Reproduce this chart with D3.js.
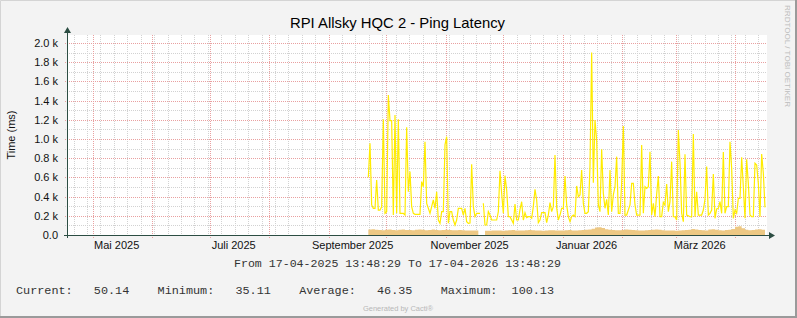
<!DOCTYPE html>
<html>
<head>
<meta charset="utf-8">
<script src="https://cdn.jsdelivr.net/npm/d3@7"></script>
<style>
  body { margin: 0; background: #f3f3f3; }
  svg { display: block; }
</style>
</head>
<body>
<div id="wrapper"></div>
<script>
// chart data
const graphTitle = "RPI Allsky HQC 2 - Ping Latency"
const axisTitle = "Time (ms)"
const rangeStart = new Date("2025-04-17T13:48:29")
const rangeEnd = new Date("2026-04-17T13:48:29")

const yTicks = [0, 200, 400, 600, 800, 1000, 1200, 1400, 1600, 1800, 2000]
const yTickLabels = ["0.0", "0.2 k", "0.4 k", "0.6 k", "0.8 k", "1.0 k", "1.2 k", "1.4 k", "1.6 k", "1.8 k", "2.0 k"]
const yMax = 2083

const monthLabels = ["Mai 2025", "Juli 2025", "September 2025", "November 2025", "Januar 2026", "März 2026"]
const monthLabelDates = ["2025-05-01", "2025-07-01", "2025-09-01", "2025-11-01", "2026-01-01", "2026-03-01"]

// samples are evenly spaced between these two times
const seriesStart = new Date("2025-09-21T16:45:00")
const seriesEnd = new Date("2026-04-16T12:46:00")

// yellow line (ms)
const latencyValues = [
  600, 955, 313, 278, 278, 573, 260, 260, 295, 1205,
  226, 243, 1459, 1191, 1191, 208, 1250, 226, 1205, 226,
  226, 226, 208, 1122, 451, 660, 295, 226, 215, 215,
  215, 215, 556, 503, 972, 330, 278, 226, 295, 365,
  278, 451, 156, 122, 243, 243, 938, 1024, 122, 243,
  243, 156, 104, 156, 278, 278, 278, 208, 278, 139,
  122,
  125, 737, 295, 191, 226, 226, 226, NaN, 330, 104,
  104, 243, 208, 156, 156, 156, 156, 243, 670, 434,
  226, 618, 469, 191, 191, 156, 122, 323, 156, 156,
  267, 347, 156, 233, 181, 191, 191, 174, 295, 476,
  365, 128, 156, 233, 233, 233, 128, 208, 337, 243,
  295, 834, 285, 156, 208, 278, 278, 615, 313, 191,
  139, 191, 208, 191, 511, 399, 417, 677, 330, 226,
  226, 243, 712, 1900, 545, 1198, 990, 313, 243, 893,
  434, 278, 372, 208, 677, 243, 417, 503, 816, 226,
  226, 538, 1136, 208, 208, 260, 313, 538, 538, 313,
  208, 208, 208, 938, 226, 503, 486, 503, 868, 208,
  330, 191, 424, 615, 191, 191, 340, 313, 531, 243,
  347, 764, 190, 190, 156, 1094, 747, 226, 139, 841,
  208, 200, 190, 190, 1052, 190, 451, 208, 208, 208,
  260, 372, 712, 208, 226, 260, 635, 174, 271, 278,
  347, 226, 865, 226, 295, 295, 972, 695, 174, 260,
  226, 382, 382, 809, 503, 174, 788, 538, 208, 190,
  190, 747, 729, 538, 190, 844, 643, 288
]

// tan area (ms)
const baseValues = [
  58, 60, 55, 52, 50, 54, 56, 52, 50, 55, 58, 53, 51, 50, 55, 57, 54, 50, 52, 56,
  53, 50, 51, 55, 52, 50, 49, 52, 50, 48, 47,
  46, 47, 46, NaN,
  44, 45, 46, 48, 46, 45, 47, 50, 52, 48, 46, 47, 50, 52, 49, 48, 46, 45, 47, 49,
  50, 48, 46, 47,
  50, 52, 48, 47, 50, 53, 55, 58, 65, 78, 82, 72, 60, 55, 52, 50, 49, 52, 58, 55,
  52, 50, 48, 47, 49, 52, 55, 58, 54, 50, 48, 47,
  46, 45, 48, 50, 52, 55, 62, 58, 52, 50, 48, 56, 60, 55, 50, 48, 52, 55, 62, 86,
  92, 70, 55, 50, 52, 58, 60, 54, 50
]

const legendLabels = ["Current:", "Minimum:", "Average:", "Maximum:"]
const legendValues = [50.14, 35.11, 46.35, 100.13]

function drawChart() {
  let dimensions = {
    width: 797,
    height: 318,
    margin: { top: 35, right: 30, bottom: 83, left: 67 },
  }
  dimensions.boundedWidth = dimensions.width - dimensions.margin.left - dimensions.margin.right
  dimensions.boundedHeight = dimensions.height - dimensions.margin.top - dimensions.margin.bottom

  const toSeries = values => values.map((v, i) => ({
    t: new Date(+seriesStart + i * (seriesEnd - seriesStart) / (values.length - 1)),
    v: v,
  }))
  const latency = toSeries(latencyValues)
  const base = toSeries(baseValues)

  const xScale = d3.scaleTime()
    .domain([rangeStart, rangeEnd])
    .range([0, dimensions.boundedWidth])
  const yScale = d3.scaleLinear()
    .domain([0, yMax])
    .range([dimensions.boundedHeight, 0])

  const svg = d3.select("#wrapper").append("svg")
    .attr("width", dimensions.width)
    .attr("height", dimensions.height)
    .style("font-family", "'Liberation Sans', Arial, sans-serif")

  // frame
  svg.append("rect").attr("width", dimensions.width).attr("height", dimensions.height).attr("fill", "#f3f3f3")
  svg.append("path").attr("d", "M0.5,318V0.5H797").attr("fill", "none").attr("stroke", "#d4d4d4")
  svg.append("path").attr("d", "M796,0V317H0").attr("fill", "none").attr("stroke", "#9a9a9a").attr("stroke-width", 2)

  const bounds = svg.append("g")
    .attr("transform", `translate(${dimensions.margin.left}, ${dimensions.margin.top})`)

  bounds.append("rect")
    .attr("width", dimensions.boundedWidth)
    .attr("height", dimensions.boundedHeight)
    .attr("fill", "#ffffff")

  const crisp = v => Math.round(v) + 0.5
  const grid = bounds.append("g").attr("shape-rendering", "crispEdges").attr("fill", "none")

  // minor grid (grey) then major grid (red)
  const minorY = d3.range(100, yMax, 100)
  const minorX = d3.timeMonday.range(rangeStart, rangeEnd)
  const majorX = d3.timeMonth.range(rangeStart, rangeEnd)

  grid.selectAll(".minor-y").data(minorY).join("line")
    .attr("x1", -2).attr("x2", dimensions.boundedWidth)
    .attr("y1", d => crisp(yScale(d))).attr("y2", d => crisp(yScale(d)))
    .attr("stroke", "#d2d2d2").attr("stroke-dasharray", "1,1")
  grid.selectAll(".minor-x").data(minorX).join("line")
    .attr("x1", d => crisp(xScale(d))).attr("x2", d => crisp(xScale(d)))
    .attr("y1", 0).attr("y2", dimensions.boundedHeight + 2)
    .attr("stroke", "#d2d2d2").attr("stroke-dasharray", "1,1")
  grid.selectAll(".major-y").data(yTicks.slice(1)).join("line")
    .attr("x1", -2).attr("x2", dimensions.boundedWidth)
    .attr("y1", d => crisp(yScale(d))).attr("y2", d => crisp(yScale(d)))
    .attr("stroke", "#e9a0a0").attr("stroke-dasharray", "1,1")
  grid.selectAll(".major-x").data(majorX).join("line")
    .attr("x1", d => crisp(xScale(d))).attr("x2", d => crisp(xScale(d)))
    .attr("y1", 0).attr("y2", dimensions.boundedHeight + 3)
    .attr("stroke", "#e9a0a0").attr("stroke-dasharray", "1,1")

  // data
  const area = d3.area()
    .defined(d => !isNaN(d.v))
    .curve(d3.curveStepAfter)
    .x(d => xScale(d.t))
    .y0(yScale(0))
    .y1(d => yScale(d.v))
  bounds.append("path").datum(base)
    .attr("d", area)
    .attr("fill", "#edc884")

  const line = d3.line()
    .defined(d => !isNaN(d.v))
    .x(d => xScale(d.t))
    .y(d => yScale(d.v))
  bounds.append("path").datum(latency)
    .attr("d", line)
    .attr("fill", "none")
    .attr("stroke", "#ffec00")
    .attr("stroke-width", 1.2)

  // axes with arrows
  const axisColor = "#2c4d43"
  bounds.append("line")
    .attr("x1", -3).attr("x2", dimensions.boundedWidth + 3)
    .attr("y1", dimensions.boundedHeight + 0.5).attr("y2", dimensions.boundedHeight + 0.5)
    .attr("stroke", axisColor)
  bounds.append("line")
    .attr("x1", 0.5).attr("x2", 0.5)
    .attr("y1", dimensions.boundedHeight + 3).attr("y2", -3)
    .attr("stroke", axisColor)
  bounds.append("path")
    .attr("d", `M${dimensions.boundedWidth + 2},${dimensions.boundedHeight - 3}l6,3.5l-6,3.5z`)
    .attr("fill", axisColor)
  bounds.append("path")
    .attr("d", "M-3,-2l3.5,-6l3.5,6z")
    .attr("fill", axisColor)

  // y tick labels
  bounds.selectAll(".ylabel").data(yTicks).join("text")
    .attr("x", -9)
    .attr("y", d => yScale(d) + 4)
    .attr("text-anchor", "end")
    .attr("font-size", 11)
    .attr("fill", "#111")
    .text((d, i) => yTickLabels[i])

  // month labels
  bounds.selectAll(".xlabel").data(monthLabels).join("text")
    .attr("x", (d, i) => xScale(d3.timeHour.offset(new Date(monthLabelDates[i] + "T00:00:00"), 300)))
    .attr("y", dimensions.boundedHeight + 14)
    .attr("text-anchor", "middle")
    .attr("font-size", 11)
    .attr("fill", "#111")
    .text(d => d)

  // axis title
  svg.append("text")
    .attr("transform", "translate(15, 135) rotate(-90)")
    .attr("text-anchor", "middle")
    .attr("font-size", 11)
    .attr("fill", "#111")
    .text(axisTitle)

  // title
  svg.append("text")
    .attr("x", 397.5).attr("y", 28)
    .attr("text-anchor", "middle")
    .attr("font-size", 15)
    .attr("textLength", 215)
    .attr("lengthAdjust", "spacingAndGlyphs")
    .attr("fill", "#000")
    .text(graphTitle)

  // time range
  const fmt = d3.timeFormat("%d-%m-%Y %H:%M:%S")
  svg.append("text")
    .attr("x", 397.5).attr("y", 267)
    .attr("text-anchor", "middle")
    .attr("font-family", "'Liberation Mono', monospace")
    .attr("font-size", 11.6)
    .attr("fill", "#333")
    .text(`From ${fmt(rangeStart)} To ${fmt(rangeEnd)}`)

  // legend
  const legendText = legendLabels.map((l, i) => l + legendValues[i].toFixed(2).padStart(8)).join("    ")
  svg.append("text")
    .attr("x", 16).attr("y", 294)
    .attr("font-family", "'Liberation Mono', monospace")
    .attr("font-size", 11.8)
    .attr("fill", "#333")
    .style("white-space", "pre")
    .text(legendText)

  svg.append("text")
    .attr("x", 398).attr("y", 311)
    .attr("text-anchor", "middle")
    .attr("font-size", 7.5)
    .attr("fill", "#b8b8b8")
    .text("Generated by Cacti®")

  svg.append("text")
    .attr("transform", "translate(785, 5) rotate(90)")
    .attr("font-size", 8)
    .attr("textLength", 102)
    .attr("lengthAdjust", "spacingAndGlyphs")
    .attr("fill", "#bdbdbd")
    .text("RRDTOOL / TOBI OETIKER")
}

drawChart()
</script>
</body>
</html>
